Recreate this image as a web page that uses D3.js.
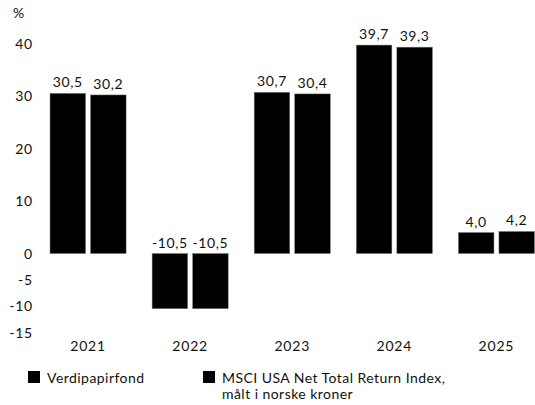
<!DOCTYPE html>
<html><head><meta charset="utf-8">
<script src="https://cdn.jsdelivr.net/npm/d3@7"></script>
<style>
html,body{margin:0;padding:0;background:#fff;}
svg{display:block;font-family:"Lato","Open Sans",sans-serif;}
</style></head>
<body>
<script>
const years = ["2021","2022","2023","2024","2025"];
const seriesNames = ["Verdipapirfond","MSCI USA Net Total Return Index,\nmålt i norske kroner"];
const fundValues = [30.5,-10.5,30.7,39.7,4.0];
const indexValues = [30.2,-10.5,30.4,39.3,4.2];
const yTicks = [40,30,20,10,0,-5,-10,-15];
const unitLabel = "%";

const W=535,H=405;
const svg=d3.select("body").append("svg").attr("width",W).attr("height",H);
const x=d3.scaleBand().domain(years).range([37,547.5]).paddingInner(0.255).paddingOuter(0.1275);
const xi=d3.scaleBand().domain([0,1]).range([0,x.bandwidth()]).paddingInner(0.123);
const y=d3.scaleLinear().domain([-15,40]).range([332.3,43.5]);
const fmt=v=>d3.format(".1f")(v).replace(".",",").replace("−","-");

// y axis labels
const yAxis=d3.axisLeft(y).tickValues(yTicks).tickSize(0).tickPadding(0).tickFormat(d=>String(d));
const ga=svg.append("g").attr("transform","translate(33,0)").call(yAxis);
ga.select(".domain").remove();
ga.selectAll("text").attr("font-size",14).attr("fill","#111").attr("font-family","Lato, sans-serif").attr("letter-spacing",0.8).attr("dy","0.35em");
svg.append("text").attr("x",13).attr("y",18).attr("font-size",14).attr("fill","#111").text(unitLabel);

const data=years.map((yr,i)=>({year:yr,vals:[fundValues[i],indexValues[i]]}));
const g=svg.selectAll("g.grp").data(data).join("g").attr("class","grp").attr("transform",d=>`translate(${x(d.year)},0)`);
g.selectAll("rect").data(d=>d.vals.map((v,k)=>({v,k}))).join("rect")
 .attr("x",d=>xi(d.k)).attr("width",xi.bandwidth())
 .attr("y",d=>y(Math.max(0,d.v))).attr("height",d=>Math.abs(y(d.v)-y(0)))
 .attr("fill","#000").attr("stroke","#777").attr("stroke-width",0.5);
g.selectAll("text.val").data(d=>d.vals.map((v,k)=>({v,k}))).join("text").attr("class","val")
 .attr("x",d=>xi(d.k)+xi.bandwidth()/2)
 .attr("y",d=>d.v>=0?y(d.v)-6:y(0)-6)
 .attr("text-anchor","middle").attr("font-size",14).attr("letter-spacing",0.6).attr("fill","#111")
 .text(d=>fmt(d.v));

// x axis labels
const xAxis=d3.axisBottom(x).tickSize(0).tickPadding(0);
const gx=svg.append("g").attr("transform","translate(0,341)").call(xAxis);
gx.select(".domain").remove();
gx.selectAll("text").attr("font-size",14).attr("fill","#111").attr("font-family","Lato, sans-serif").attr("letter-spacing",0.8);

// legend
const legX=[28,203];
seriesNames.forEach((name,i)=>{
  const lg=svg.append("g").attr("transform",`translate(${legX[i]},371)`);
  lg.append("rect").attr("width",12).attr("height",12).attr("fill","#000");
  const lines=name.split("\n");
  lines.forEach((ln,j)=>{
    lg.append("text").attr("x",19).attr("y",11.5+j*16.5).attr("font-size",14).attr("letter-spacing",0.45).attr("fill","#111").text(ln);
  });
});
</script>
</body></html>
